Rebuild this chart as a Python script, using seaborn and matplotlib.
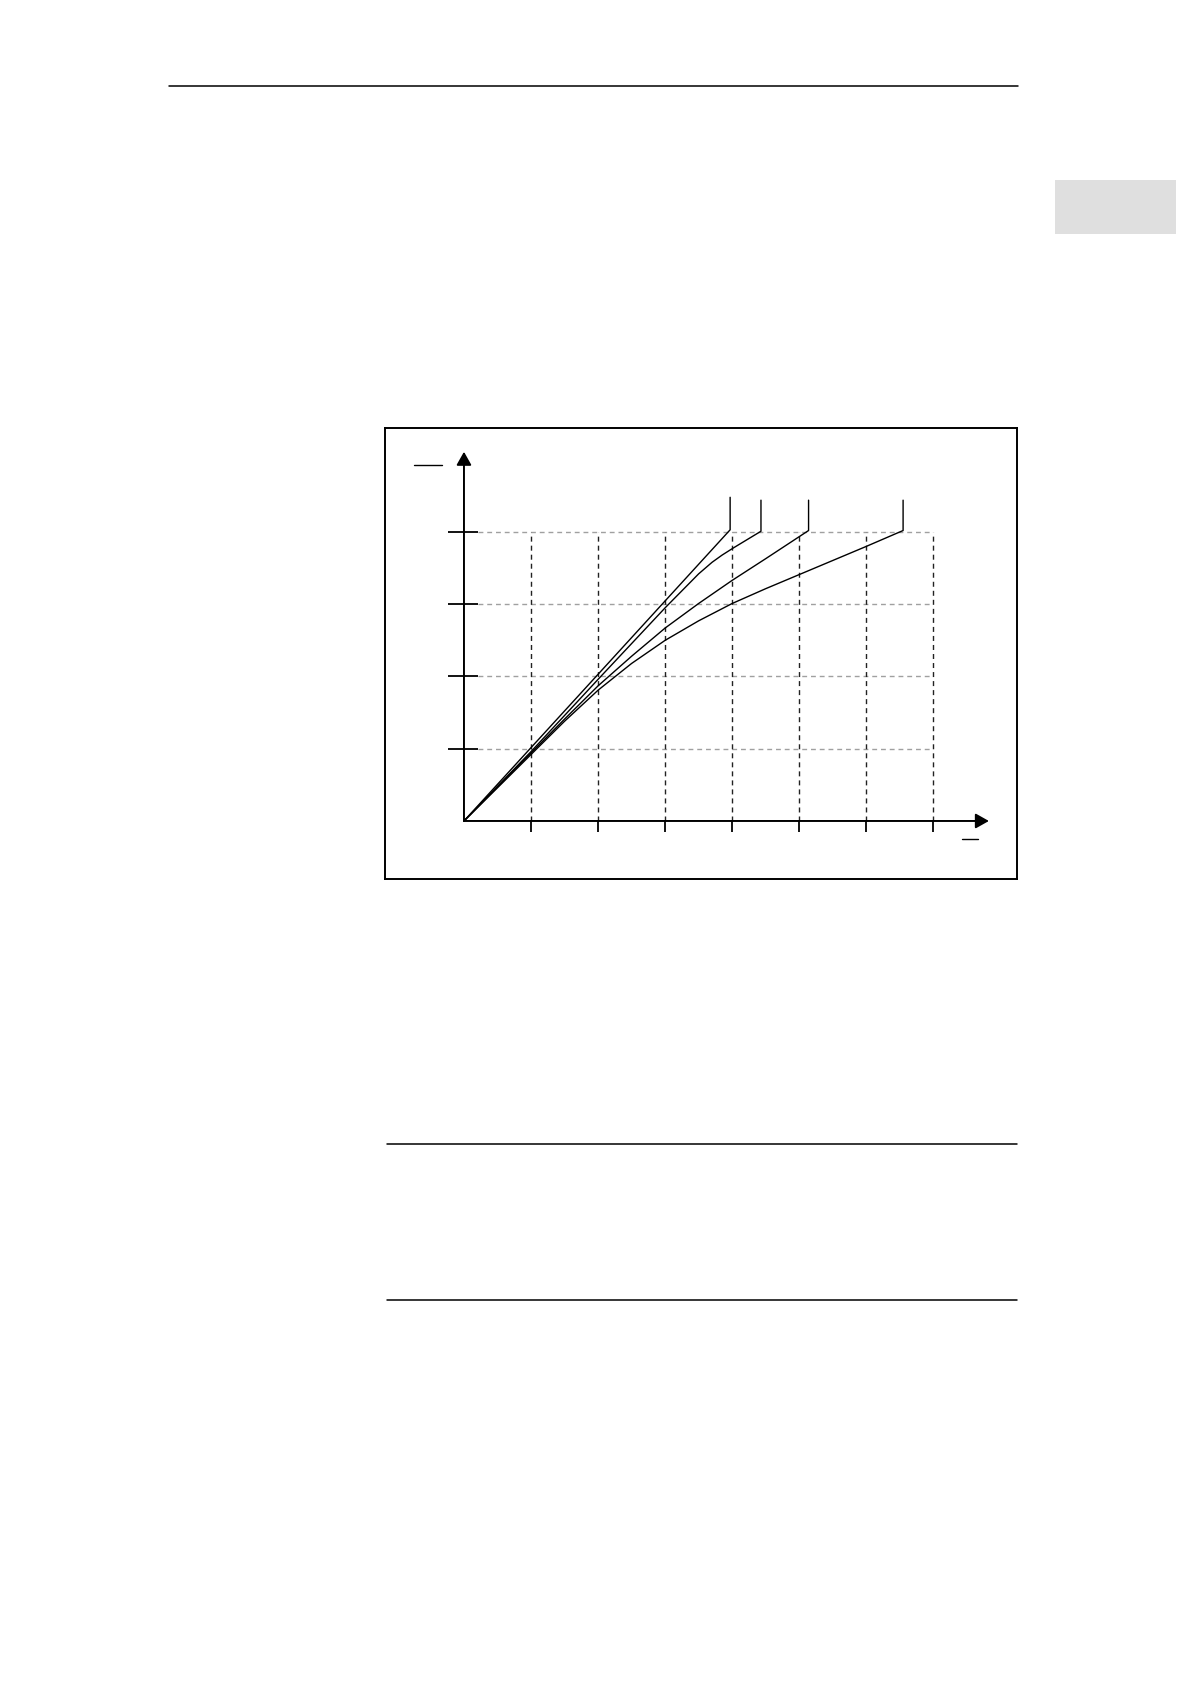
# gráfico de curvas sobre una página de manual
import pandas as pd
import seaborn as sns
import matplotlib.pyplot as plt
from matplotlib.lines import Line2D
from matplotlib.patches import Rectangle

# posiciones de la rejilla
x_ticks = [1, 2, 3, 4, 5, 6, 7]
y_ticks = [1, 2, 3, 4]

# curvas, con el trazo vertical final
curva1_x = [0, 3.97, 3.97]
curva1_y = [0, 4.03, 4.48]

curva2_x = [0, 1.0, 2.0, 3.0, 3.5, 3.7, 3.85, 4.02, 4.43, 4.43]
curva2_y = [0, 0.96, 1.96, 2.95, 3.42, 3.58, 3.68, 3.78, 4.01, 4.44]

curva3_x = [0, 1.0, 1.5, 2.0, 2.5, 3.0, 3.5, 4.0, 4.5, 5.14, 5.14]
curva3_y = [0, 0.94, 1.41, 1.87, 2.28, 2.67, 3.01, 3.33, 3.63, 4.02, 4.44]

curva4_x = [0, 1.0, 1.5, 2.0, 2.5, 3.0, 3.5, 4.0, 4.5, 5.0, 6.0, 6.55, 6.55]
curva4_y = [0, 0.92, 1.38, 1.81, 2.18, 2.50, 2.77, 3.01, 3.215, 3.41, 3.80, 4.02, 4.44]

# tabla larga para seaborn
partes = []
for nombre, xs, ys in [('1', curva1_x, curva1_y), ('2', curva2_x, curva2_y),
                       ('3', curva3_x, curva3_y), ('4', curva4_x, curva4_y)]:
    partes.append(pd.DataFrame({'x': xs, 'y': ys, 'curva': nombre,
                                'orden': range(len(xs))}))
df = pd.concat(partes, ignore_index=True)

sns.set_style("white")
fig = plt.figure(figsize=(11.9, 16.84), dpi=100)

# elementos de la página
fig.add_artist(Line2D([169 / 1190, 1018 / 1190], [1 - 86 / 1684] * 2,
                      color='black', lw=1.1))
fig.add_artist(Rectangle((1055 / 1190, 1 - 234 / 1684), 121 / 1190, 54 / 1684,
                         color='#dfdfdf', lw=0))
for yy in [1144, 1300]:
    fig.add_artist(Line2D([387 / 1190, 1017 / 1190], [1 - yy / 1684] * 2,
                          color='black', lw=1.1))

# ejes del gráfico (el marco son los bordes)
ax = fig.add_axes([385 / 1190, 1 - 879 / 1684, 632 / 1190, 451 / 1684])
ax.set_xlim(-1.178, 8.249)
ax.set_ylim(-0.803, 5.439)
ax.set_xticks([])
ax.set_yticks([])
for sp in ax.spines.values():
    sp.set_visible(True)
    sp.set_color('black')
    sp.set_linewidth(1.4)

# rejilla
ax.hlines(y_ticks, 0.21, 7.0, colors='#a0a0a0', lw=1.0, linestyles=(0, (3.5, 2.8)))
ax.vlines(x_ticks, 0, 4, colors='#222222', lw=1.0, linestyles=(0, (3.6, 2.9)))

# marcas de los ejes
ax.hlines(y_ticks, -0.24, 0.21, colors='black', lw=1.3)
ax.vlines(x_ticks, -0.15, 0, colors='black', lw=1.3)

# ejes con flecha
flecha = dict(arrowstyle='-|>,head_length=0.8,head_width=0.45', lw=1.4,
              color='black', shrinkA=0, shrinkB=0)
ax.annotate('', xy=(7.83, 0), xytext=(0, 0), arrowprops=flecha)
ax.annotate('', xy=(0, 5.11), xytext=(0, 0), arrowprops=flecha)

# rayas de las etiquetas
ax.plot([-0.75, -0.33], [4.93, 4.93], color='black', lw=1.0)
ax.plot([7.43, 7.67], [-0.25, -0.25], color='black', lw=1.0)

# curvas
sns.lineplot(data=df, x='x', y='y', units='curva', estimator=None, sort=False,
             color='black', lw=1.0, ax=ax, legend=False)
ax.set_xlabel('')
ax.set_ylabel('')

plt.savefig('out.png', dpi=100)
